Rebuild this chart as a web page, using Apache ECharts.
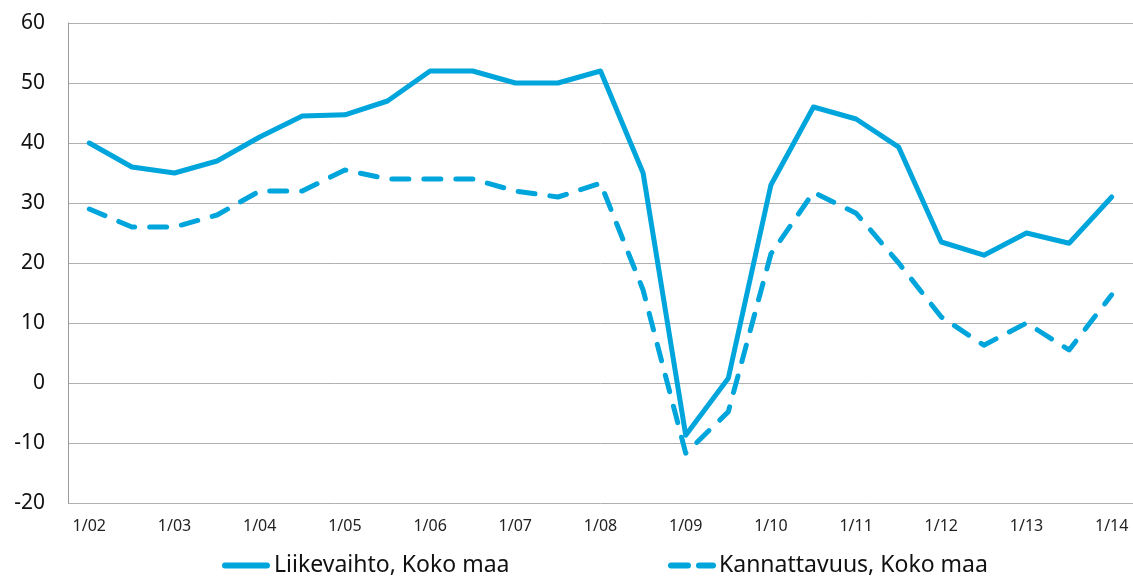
<!DOCTYPE html>
<html><head><meta charset="utf-8">
<script src="https://cdn.jsdelivr.net/npm/echarts@6/dist/echarts.min.js"></script>
<style>html,body{margin:0;padding:0;background:#fff}#c{width:1133px;height:576px}</style>
</head><body><div id="c"></div>
<script>
var categories = ["1/02","7/02","1/03","7/03","1/04","7/04","1/05","7/05","1/06","7/06","1/07","7/07","1/08","7/08","1/09","7/09","1/10","7/10","1/11","7/11","1/12","7/12","1/13","7/13","1/14"];
var liikevaihto = [40,36,35,37,41,44.5,44.7,47,52,52,50,50,52,35,-8.7,0.8,33,46,44,39.3,23.5,21.3,25,23.3,31];
var kannattavuus = [29,26,26,28,32,32,35.5,34,34,34,32,31,33.3,15.5,-11.7,-4.8,21.5,31.8,28.3,20,11,6.3,10,5.5,14.7];
var yTicks = {min:-20, max:60, interval:10};
var names = ["Liikevaihto, Koko maa","Kannattavuus, Koko maa"];
var color = "#00a5dc";
var font = "Noto Sans";
var solidIcon = 'path://M3,0 H45 A3,3 0 0 1 45,6 H3 A3,3 0 0 1 3,0 Z';
var dashIcon = 'path://M3,0 H20 A3,3 0 0 1 20,6 H3 A3,3 0 0 1 3,0 Z M31,0 H45 A3,3 0 0 1 45,6 H31 A3,3 0 0 1 31,0 Z';
var chart = echarts.init(document.getElementById('c'));
chart.setOption({
  animation:false,
  grid:{left:68, right:-2, top:23, bottom:73},
  legend:[
    {data:[{name:names[0], icon:solidIcon}], left:217, top:549, itemWidth:48, itemHeight:6, itemGap:0,
     textStyle:{fontFamily:font, fontSize:23, color:'#111', padding:[0,0,0,-1]}},
    {data:[{name:names[1], icon:dashIcon}], left:663, top:549, itemWidth:48, itemHeight:6, itemGap:0,
     textStyle:{fontFamily:font, fontSize:23, color:'#111', padding:[0,0,0,-2]}}
  ],
  xAxis:{type:'category', data:categories, boundaryGap:true,
    axisLine:{show:false}, axisTick:{show:false},
    axisLabel:{interval:1, margin:15, fontFamily:font, fontSize:16, color:'#222'}},
  yAxis:{type:'value', min:yTicks.min, max:yTicks.max, interval:yTicks.interval,
    axisLine:{show:true, lineStyle:{color:'#999', width:1}}, axisTick:{show:false},
    splitLine:{lineStyle:{color:'#b0b0b0', width:1}},
    axisLabel:{margin:23, fontFamily:font, fontSize:21, color:'#111'}},
  series:[
    {name:names[0], type:'line', data:liikevaihto, symbol:'none', smooth:false,
     lineStyle:{color:color, width:5, cap:'round', join:'round'}, itemStyle:{color:color}},
    {name:names[1], type:'line', data:kannattavuus, symbol:'none', smooth:false,
     lineStyle:{color:color, width:5, type:[17,15], cap:'round', join:'round'}, itemStyle:{color:color}}
  ]
});
</script></body></html>
